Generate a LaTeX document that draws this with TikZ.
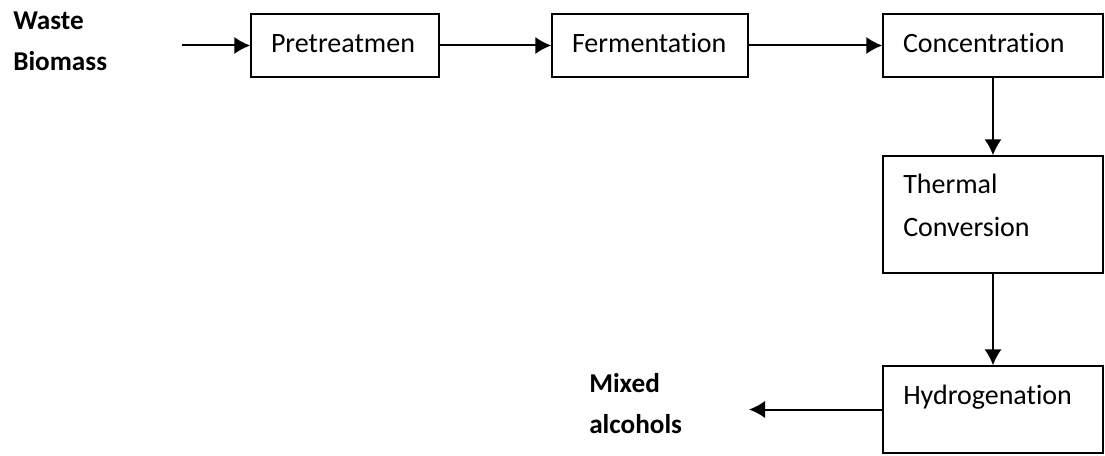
\documentclass[tikz,border=0pt]{standalone}
\usepackage{fontspec}
\setmainfont{Carlito}[Ligatures=NoCommon]
\usepackage{tikz}
\usetikzlibrary{arrows,arrows.meta,positioning}
\tikzset{>={Latex[length=12pt,width=13pt]}}

\begin{document}
\begin{tikzpicture}[x=0.75pt,y=-0.75pt,
    box/.style={draw, line width=1.1pt, inner xsep=15pt, align=left, minimum height=47.25pt,
      text height=14pt, text depth=4pt, font=\fontsize{21}{32.25}\selectfont},
    txt/.style={inner sep=0pt, align=left, font=\fontsize{21}{32.25}\selectfont},
    endtxt/.style={inner sep=0pt, align=left, font=\fontsize{20.4}{30.75}\selectfont\bfseries},
    flow/.style={->, line width=1.5pt}]
  \useasboundingbox (0,0) rectangle (1105,456);
  % process chain
  \node[box, text width=111pt] (pre) at (345,45.5) {Pretreatmen};
  \node[box, text width=117pt] (ferm) at (650,45.5) {Fermentation};
  \node[box, text width=135pt] (conc) at (993,45.5) {Concentration};
  \node[box, text width=135pt, minimum height=87.75pt] (therm) at (993,214.5) {};
  \node[box, text width=135pt, minimum height=65.25pt] (hydro) at (993,409.5) {};
  % texts sit on the baseline of their last line
  \node[txt, anchor=base west] (thermtxt) at (903,236) {Thermal\\Conversion};
  \node[txt, anchor=base west] (hydrotxt) at (903,404) {Hydrogenation};
  % feed and product
  \node[endtxt, anchor=base west] (waste) at (13,71) {Waste\\Biomass};
  \node[endtxt, anchor=base west] (mixed) at (589,433) {Mixed\\alcohols};
  \coordinate (in) at (182,45.5);
  \coordinate (out) at (749,409.5);
  % arrows
  \draw[flow] (in) -- (pre);
  \draw[flow] (pre) -- (ferm);
  \draw[flow] (ferm) -- (conc);
  \draw[flow] (conc) -- (therm);
  \draw[flow] (therm) -- (hydro);
  \draw[flow] (hydro) -- (out);
\end{tikzpicture}
\end{document}
